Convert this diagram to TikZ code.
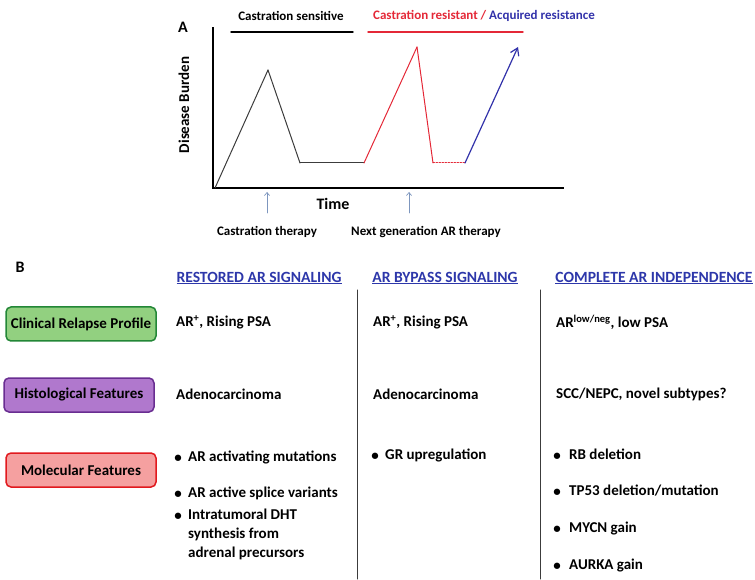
\documentclass[tikz,border=0pt]{standalone}
\usepackage{fontspec}
\setmainfont{Carlito}
\usepackage{tkz-euclide}
\usetikzlibrary{arrows.meta}

\definecolor{curvegray}{RGB}{60,60,60}
\definecolor{resred}{RGB}{228,40,55}
\definecolor{acqblue}{RGB}{50,50,170}
\definecolor{tickblue}{RGB}{125,150,190}
\definecolor{headblue}{RGB}{45,55,170}
\definecolor{greenfill}{RGB}{146,208,128}
\definecolor{greenline}{RGB}{35,135,55}
\definecolor{purplefill}{RGB}{176,120,205}
\definecolor{purpleline}{RGB}{105,45,145}
\definecolor{redfill}{RGB}{245,160,160}
\definecolor{redline}{RGB}{225,25,30}

\tikzset{
  txt/.style={font=\bfseries\fontsize{15}{19}\selectfont, inner sep=0pt},
  small/.style={font=\bfseries\fontsize{13}{16}\selectfont, inner sep=0pt},
  head/.style={font=\bfseries\fontsize{15.6}{19}\selectfont, inner sep=0pt, text=headblue},
  rowbox/.style={draw, line width=1.5pt, rounded corners=5pt, minimum width=150pt,
    minimum height=34pt, font=\bfseries\fontsize{15}{19}\selectfont},
  bul/.style={txt, anchor=center},
  item/.style={txt, anchor=north west, align=left}
}

\begin{document}
\begin{tikzpicture}[x=1pt,y=1pt]
\useasboundingbox (0,0) rectangle (755,579);

% panel A
\node[font=\bfseries\fontsize{16}{19}\selectfont] (labA) at (183,552) {A};

\tkzDefPoint(213,391){O}
\tkzDefPoint(213,551){Ytop}
\tkzDefPoint(563,391){Xend}
\tkzDrawSegment[line width=2pt,line cap=rect](O,Ytop)
\tkzDrawSegment[line width=2pt,line cap=rect](O,Xend)

\tkzDefPoint(215,391){P0}
\tkzDefPoint(268,509){P1}
\tkzDefPoint(300,416){P2}
\tkzDefPoint(364,416){P3}
\tkzDefPoint(417,532){P4}
\tkzDefPoint(433,416){P5}
\tkzDefPoint(465,416){P6}
\tkzDefPoint(518,532){P7}
\tkzDrawSegments[curvegray,line width=1pt](P0,P1 P1,P2 P2,P3)
\tkzDrawSegments[resred,line width=1pt](P3,P4 P4,P5)
\tkzDrawSegment[resred,line width=1pt,dash pattern=on 1.5pt off 1.5pt](P5,P6)
\tkzDrawSegment[acqblue,line width=1.2pt,-{Straight Barb[length=7pt,width=9pt]}](P6,P7)

% phase bars
\tkzDefPoint(231,547){Sa}
\tkzDefPoint(353,547){Sb}
\tkzDefPoint(368,547){Ra}
\tkzDefPoint(523,547){Rb}
\tkzDrawSegment[line width=1.4pt](Sa,Sb)
\tkzDrawSegment[resred,line width=1.4pt](Ra,Rb)
\node[small] (sens) at (291,563) {Castration sensitive};
\node[small] (resist) at (484,563) {\textcolor{resred}{Castration resistant} \textcolor{resred}{/} \textcolor{acqblue}{Acquired resistance}};

\node[font=\bfseries\fontsize{15}{18}\selectfont, rotate=90] (burden) at (184,474) {Disease Burden};
\node[font=\bfseries\fontsize{16}{19}\selectfont] (time) at (333,375) {Time};

% therapy arrows
\tkzDefPoint(267,366){Ta}
\tkzDefPoint(267,387){Tb}
\tkzDefPoint(409,366){Na}
\tkzDefPoint(409,387){Nb}
\tkzDrawSegment[tickblue,line width=0.7pt,-{Straight Barb[length=3pt,width=5pt]}](Ta,Tb)
\tkzDrawSegment[tickblue,line width=0.7pt,-{Straight Barb[length=3pt,width=5pt]}](Na,Nb)
\node[small] (castr) at (267,347) {Castration therapy};
\node[small] (nextgen) at (426,347) {Next generation AR therapy};

% panel B
\node[font=\bfseries\fontsize{16}{19}\selectfont] (labB) at (20,312) {B};

\node[head] (restored) at (259,301) {\underline{RESTORED AR SIGNALING}};
\node[head] (bypass) at (445,301) {\underline{AR BYPASS SIGNALING}};
\node[head] (indep) at (654,301) {\underline{COMPLETE AR INDEPENDENCE}};

\tkzDefPoint(357,289){Ua}
\tkzDefPoint(357,0){Ub}
\tkzDefPoint(540,289){Va}
\tkzDefPoint(540,0){Vb}
\tkzDrawSegment[curvegray,line width=1pt](Ua,Ub)
\tkzDrawSegment[curvegray,line width=1pt](Va,Vb)

\node[rowbox, fill=greenfill, draw=greenline] (clin) at (81,255) {Clinical Relapse Profile};
\node[rowbox, fill=purplefill, draw=purpleline] (histo) at (79,184) {Histological Features};
\node[rowbox, fill=redfill, draw=redline] (molec) at (81,109) {Molecular Features};

\node[txt, anchor=west] (clinA) at (176,257) {AR\textsuperscript{+}, Rising PSA};
\node[txt, anchor=west] (clinB) at (373,257) {AR\textsuperscript{+}, Rising PSA};
\node[txt, anchor=west] (clinC) at (556,257) {AR\textsuperscript{low/neg}, low PSA};

\node[txt, anchor=west] (histA) at (176,185) {Adenocarcinoma};
\node[txt, anchor=west] (histB) at (373,185) {Adenocarcinoma};
\node[txt, anchor=west] (histC) at (556,185) {SCC/NEPC, novel subtypes?};

% molecular features
\node[bul] (bA1) at (178,120) {\textbullet};
\node[item] (mA1) at (188,128) {AR activating mutations};
\node[bul] (bA2) at (178,84) {\textbullet};
\node[item] (mA2) at (188,92) {AR active splice variants};
\node[bul] (bA3) at (178,62) {\textbullet};
\node[item] (mA3) at (188,70) {Intratumoral DHT\\synthesis from\\adrenal precursors};

\node[bul] (bB1) at (375,122) {\textbullet};
\node[item] (mB1) at (385,130) {GR upregulation};

\node[bul] (bC1) at (557,122) {\textbullet};
\node[item] (mC1) at (569,130) {RB deletion};
\node[bul] (bC2) at (557,86) {\textbullet};
\node[item] (mC2) at (569,94) {TP53 deletion/mutation};
\node[bul] (bC3) at (557,49) {\textbullet};
\node[item] (mC3) at (569,57) {MYCN gain};
\node[bul] (bC4) at (557,12) {\textbullet};
\node[item] (mC4) at (569,20) {AURKA gain};

\end{tikzpicture}
\end{document}
